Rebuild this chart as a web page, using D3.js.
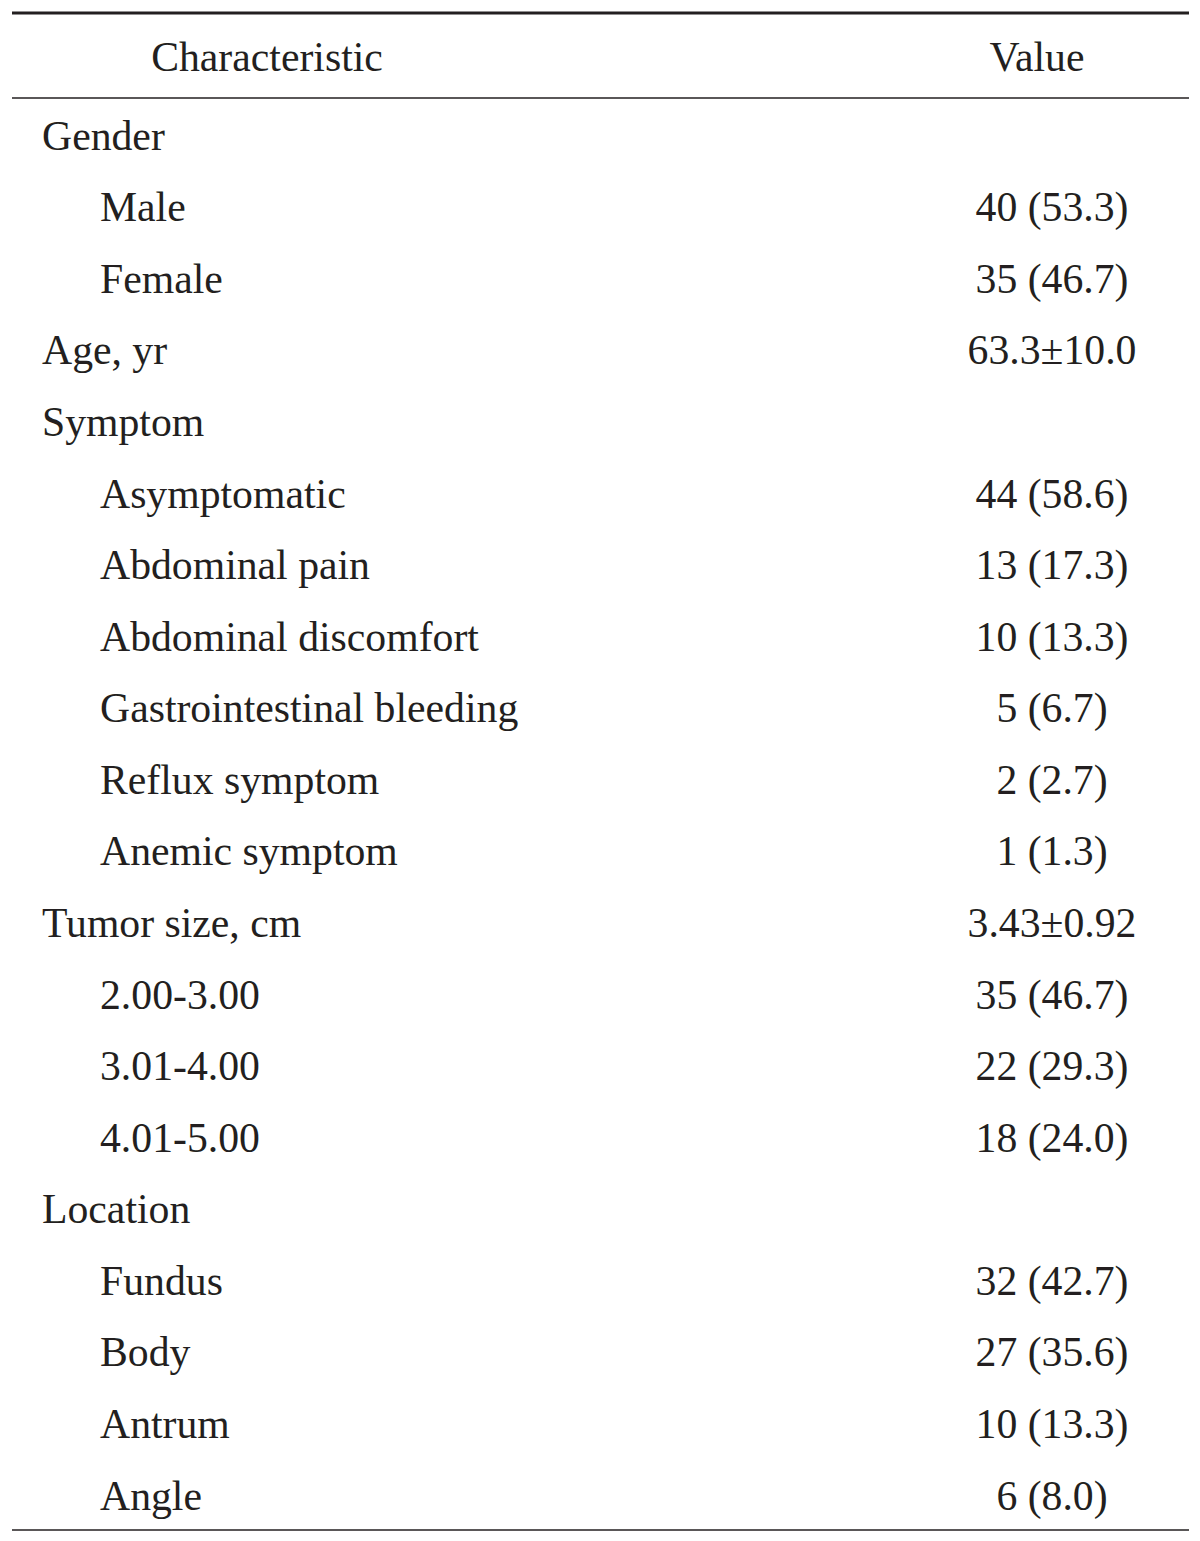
<!DOCTYPE html>
<html>
<head>
<meta charset="utf-8">
<script src="https://cdn.jsdelivr.net/npm/d3@7"></script>
<style>
  body { margin: 0; background: #fff; }
</style>
</head>
<body>
<div id="table_area"></div>
<script>
var headers = ["Characteristic", "Value"];
var labels = ["Gender", "Male", "Female", "Age, yr", "Symptom", "Asymptomatic",
    "Abdominal pain", "Abdominal discomfort", "Gastrointestinal bleeding",
    "Reflux symptom", "Anemic symptom", "Tumor size, cm", "2.00-3.00",
    "3.01-4.00", "4.01-5.00", "Location", "Fundus", "Body", "Antrum", "Angle"];
var levels = [0, 1, 1, 0, 0, 1, 1, 1, 1, 1, 1, 0, 1, 1, 1, 0, 1, 1, 1, 1];
var values = ["", "40 (53.3)", "35 (46.7)", "63.3\u00b110.0", "", "44 (58.6)",
    "13 (17.3)", "10 (13.3)", "5 (6.7)", "2 (2.7)", "1 (1.3)", "3.43\u00b10.92",
    "35 (46.7)", "22 (29.3)", "18 (24.0)", "", "32 (42.7)", "27 (35.6)",
    "10 (13.3)", "6 (8.0)"];

var width = 1200, height = 1541;
var ink = "#231f20";
var font = "'Liberation Serif', serif";

var svg = d3.select("#table_area")
    .append("svg")
    .attr("width", width)
    .attr("height", height);

// row centres
var y = d3.scalePoint()
    .domain(d3.range(labels.length))
    .range([135, 1495]);

var indent = d3.scaleOrdinal().domain([0, 1]).range([42, 100]);

// find a font size so a long label matches the picture width
var probe = svg.append("text")
    .attr("font-family", font)
    .attr("font-size", 40)
    .text("Abdominal discomfort");
var fs = 40 * 379 / probe.node().getComputedTextLength();
probe.remove();

// rules
svg.append("line")
    .attr("x1", 12).attr("x2", 1189)
    .attr("y1", 13).attr("y2", 13)
    .attr("stroke", ink).attr("stroke-width", 3);
svg.append("line")
    .attr("x1", 12).attr("x2", 1189)
    .attr("y1", 98).attr("y2", 98)
    .attr("stroke", ink).attr("stroke-width", 1.3);
svg.append("line")
    .attr("x1", 12).attr("x2", 1189)
    .attr("y1", 1530).attr("y2", 1530)
    .attr("stroke", ink).attr("stroke-width", 1.3);

// header
svg.selectAll(".head")
    .data(headers)
    .enter()
    .append("text")
    .attr("class", "head")
    .attr("x", function(d, i) { return i === 0 ? 267 : 1037; })
    .attr("y", 56)
    .attr("dy", "0.35em")
    .style("text-anchor", "middle")
    .attr("font-family", font)
    .attr("font-size", fs)
    .attr("fill", ink)
    .text(function(d) { return d; });

var row = svg.selectAll(".row")
    .data(labels)
    .enter()
    .append("g")
    .attr("class", "row")
    .attr("transform", function(d, i) { return "translate(0," + y(i) + ")"; });

row.append("text")
    .attr("x", function(d, i) { return indent(levels[i]); })
    .attr("dy", "0.35em")
    .attr("font-family", font)
    .attr("font-size", fs)
    .attr("fill", ink)
    .text(function(d) { return d; });

row.append("text")
    .attr("x", 1052)
    .attr("dy", "0.35em")
    .style("text-anchor", "middle")
    .attr("font-family", font)
    .attr("font-size", fs)
    .attr("fill", ink)
    .text(function(d, i) { return values[i]; });
</script>
</body>
</html>
